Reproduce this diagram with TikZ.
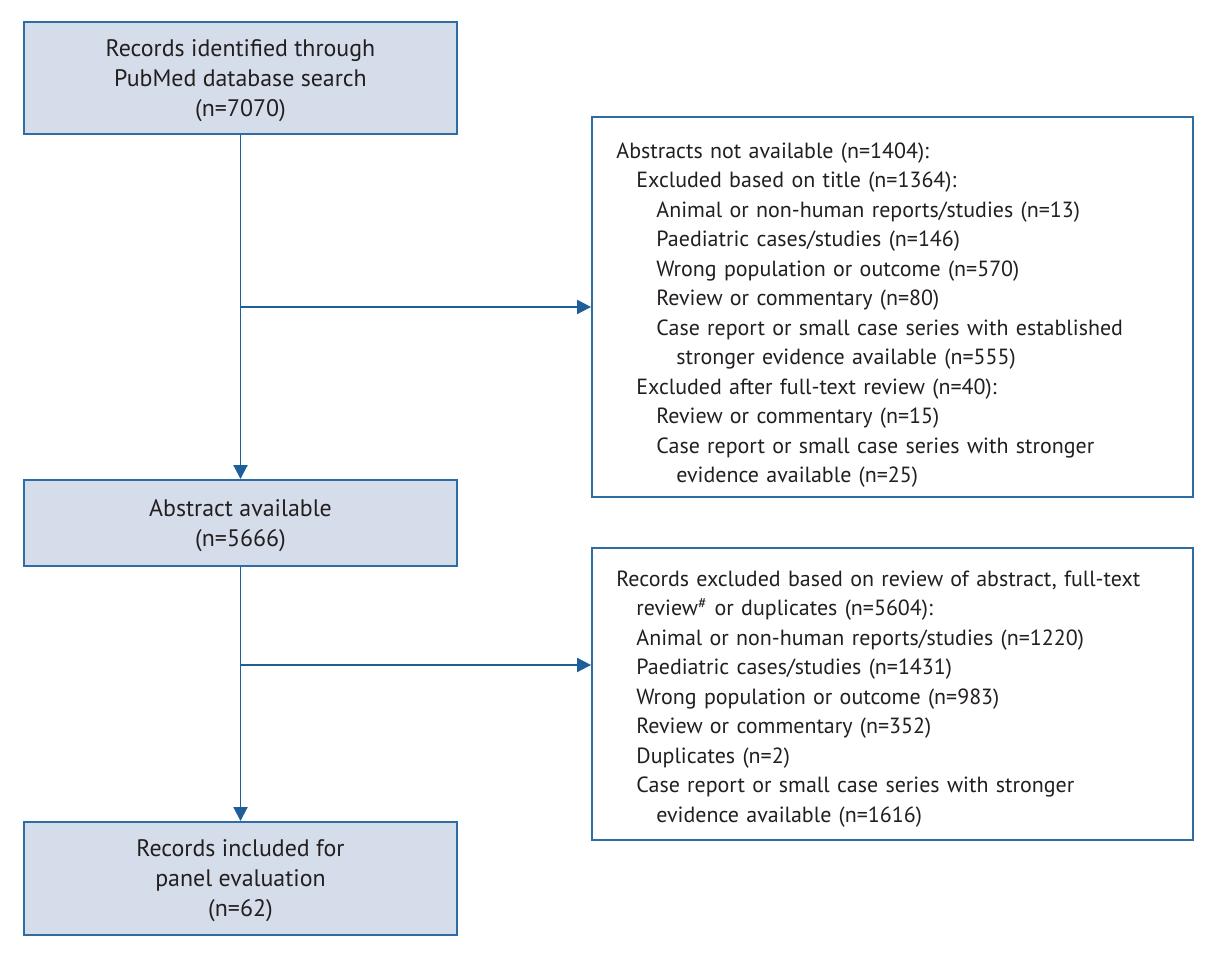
\documentclass[tikz,border=0pt]{standalone}
\usepackage{fontspec}
\setmainfont{PT Sans}
\usetikzlibrary{arrows.meta}
\definecolor{bfill}{HTML}{D5DDEA}
\definecolor{bline}{HTML}{2E6DA4}
\definecolor{aline}{HTML}{1F5F99}
\definecolor{txt}{HTML}{231F20}
\begin{document}
\begin{tikzpicture}[x=0.02cm,y=-0.02cm,
 txtf/.style={font=\fontsize{12.5}{16.8}\selectfont, text=txt, align=left, inner sep=0pt, anchor=west, text width=11.02cm},
 ltxt/.style={font=\fontsize{13.6}{17.1}\selectfont, text=txt, align=center, inner sep=0pt},
 lbox/.style={draw=bline,fill=bfill,line width=1.1pt,inner sep=0pt,minimum width=8.66cm},
 rbox/.style={draw=bline,fill=white,line width=1.1pt,inner sep=0pt,minimum width=12.02cm},
 conn/.style={draw=aline,line width=1.1pt},
 arr/.style={conn,-{Triangle[length=0.28cm,width=0.28cm]}}]
\useasboundingbox (0,0) rectangle (1215,955);
\node[lbox,minimum height=2.24cm] (b1) at (240.5,78) {};
\node[lbox,minimum height=1.72cm] (b2) at (240.5,523) {};
\node[lbox,minimum height=2.26cm] (b3) at (240.5,878.5) {};
\node[ltxt] (b1t) at ([yshift=-0.06cm]b1.center) {Records identified through\\PubMed database search\\(n=7070)};
\node[ltxt] (b2t) at ([yshift=-0.06cm]b2.center) {Abstract available\\(n=5666)};
\node[ltxt] (b3t) at ([yshift=-0.05cm]b3.center) {Records included for\\panel evaluation\\(n=62)};
\node[rbox,minimum height=7.6cm] (r1) at (892.5,307) {};
\node[rbox,minimum height=5.84cm] (r2) at (892.5,694) {};
\node[txtf] (r1t) at ([xshift=0.5cm,yshift=-0.16cm]r1.west) {Abstracts not available (n=1404):\\
\hspace*{0.4cm}Excluded based on title (n=1364):\\
\hspace*{0.8cm}Animal or non-human reports/studies (n=13)\\
\hspace*{0.8cm}Paediatric cases/studies (n=146)\\
\hspace*{0.8cm}Wrong population or outcome (n=570)\\
\hspace*{0.8cm}Review or commentary (n=80)\\
\hspace*{0.8cm}Case report or small case series with established\\
\hspace*{1.2cm}stronger evidence available (n=555)\\
\hspace*{0.4cm}Excluded after full-text review (n=40):\\
\hspace*{0.8cm}Review or commentary (n=15)\\
\hspace*{0.8cm}Case report or small case series with stronger\\
\hspace*{1.2cm}evidence available (n=25)};
\node[txtf] (r2t) at ([xshift=0.5cm,yshift=-0.1cm]r2.west) {Records excluded based on review of abstract, full-text\\
\hspace*{0.4cm}review\textsuperscript{\#} or duplicates (n=5604):\\
\hspace*{0.4cm}Animal or non-human reports/studies (n=1220)\\
\hspace*{0.4cm}Paediatric cases/studies (n=1431)\\
\hspace*{0.4cm}Wrong population or outcome (n=983)\\
\hspace*{0.4cm}Review or commentary (n=352)\\
\hspace*{0.4cm}Duplicates (n=2)\\
\hspace*{0.4cm}Case report or small case series with stronger\\
\hspace*{0.8cm}evidence available (n=1616)};
\coordinate (j1) at (240,307);
\coordinate (j2) at (240,665);
\draw[arr] (b1.south) -- (b2.north);
\draw[arr] (b2.south) -- (b3.north);
\draw[arr] (j1) -- (r1.west |- j1);
\draw[arr] (j2) -- (r2.west |- j2);
\end{tikzpicture}
\end{document}
